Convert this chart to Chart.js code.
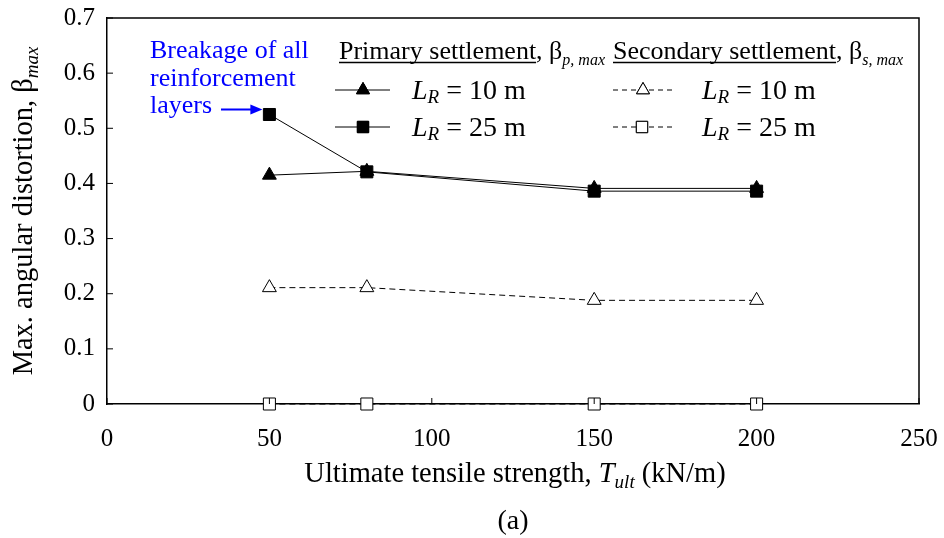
<!DOCTYPE html>
<html>
<head>
<meta charset="utf-8">
<script src="https://cdn.jsdelivr.net/npm/chart.js@4.4.1/dist/chart.umd.min.js"></script>
<style>
  html, body { margin: 0; padding: 0; background: #fff; }
  #wrap { width: 944px; height: 538px; position: relative; }
</style>
</head>
<body>
<div id="wrap"><canvas id="chart"></canvas></div>
<script>
'use strict'

// values
const tult = [50, 80, 150, 200]
const primaryL10 = [0.415, 0.422, 0.391, 0.391]
const primaryL25 = [0.525, 0.421, 0.386, 0.386]
const secondaryL10 = [0.211, 0.211, 0.188, 0.188]
const secondaryL25 = [0, 0, 0, 0]
const xTicks = [0, 50, 100, 150, 200, 250]
const yTicks = [0, 0.1, 0.2, 0.3, 0.4, 0.5, 0.6, 0.7]

const SERIF = '"Liberation Serif", "Times New Roman", serif'

function pts(ys) {
  return tult.map((x, i) => ({ x: x, y: ys[i] }))
}

// draw a list of text runs, each with its own font / vertical shift / underline
function drawRuns(ctx, x, y, runs, align) {
  let total = 0
  runs.forEach(r => { ctx.font = r.font; total += ctx.measureText(r.t).width })
  let cx = align === 'center' ? x - total / 2 : x
  ctx.textAlign = 'left'
  ctx.textBaseline = 'alphabetic'
  runs.forEach(r => {
    ctx.font = r.font
    const w = ctx.measureText(r.t).width
    ctx.fillText(r.t, cx, y + (r.dy || 0))
    if (r.underline) {
      ctx.beginPath()
      ctx.lineWidth = 1.5
      ctx.moveTo(cx, y + 3.5)
      ctx.lineTo(cx + w, y + 3.5)
      ctx.stroke()
    }
    cx += w
  })
}

function marker(ctx, style, x, y, r, filled) {
  ctx.save()
  ctx.setLineDash([])
  ctx.lineWidth = 1
  ctx.strokeStyle = '#000'
  ctx.fillStyle = filled ? '#000' : '#fff'
  Chart.helpers.drawPoint(ctx, { pointStyle: style, radius: r, borderWidth: 1 }, x, y)
  ctx.fill()
  ctx.stroke()
  ctx.restore()
}

const decorations = {
  id: 'decorations',
  afterDraw(chart) {
    const ctx = chart.ctx
    const a = chart.chartArea
    const xs = chart.scales.x
    const ys = chart.scales.y
    ctx.save()

    // frame (top + right)
    ctx.strokeStyle = '#000'
    ctx.lineWidth = 1.5
    ctx.beginPath()
    ctx.moveTo(a.left, a.top)
    ctx.lineTo(a.right, a.top)
    ctx.lineTo(a.right, a.bottom)
    ctx.stroke()

    // inner tick marks
    ctx.lineWidth = 1
    ys.ticks.forEach(t => {
      const py = ys.getPixelForValue(t.value)
      ctx.beginPath()
      ctx.moveTo(a.left, py)
      ctx.lineTo(a.left + 6, py)
      ctx.stroke()
    })
    xs.ticks.forEach(t => {
      const px = xs.getPixelForValue(t.value)
      ctx.beginPath()
      ctx.moveTo(px, a.bottom)
      ctx.lineTo(px, a.bottom - 6)
      ctx.stroke()
    })

    ctx.fillStyle = '#000'
    // axis titles
    drawRuns(ctx, (a.left + a.right) / 2 + 2, 482, [
      { t: 'Ultimate tensile strength, ', font: '28.5px ' + SERIF },
      { t: 'T', font: 'italic 28.5px ' + SERIF },
      { t: 'ult', font: 'italic 19px ' + SERIF, dy: 6 },
      { t: ' (kN/m)', font: '28.5px ' + SERIF }
    ], 'center')

    ctx.save()
    ctx.translate(32, (a.top + a.bottom) / 2)
    ctx.rotate(-Math.PI / 2)
    drawRuns(ctx, 0, 0, [
      { t: 'Max. angular distortion, β', font: '28.5px ' + SERIF },
      { t: 'max', font: 'italic 19px ' + SERIF, dy: 6 }
    ], 'center')
    ctx.restore()

    // caption
    ctx.font = '28px ' + SERIF
    ctx.textAlign = 'center'
    ctx.fillText('(a)', (a.left + a.right) / 2, 529)

    // legend headings
    drawRuns(ctx, 339, 59, [
      { t: 'Primary settlement', font: '26px ' + SERIF, underline: true },
      { t: ', β', font: '26px ' + SERIF },
      { t: 'p, max', font: 'italic 16px ' + SERIF, dy: 6 }
    ])
    drawRuns(ctx, 613, 59, [
      { t: 'Secondary settlement', font: '26px ' + SERIF, underline: true },
      { t: ', β', font: '26px ' + SERIF },
      { t: 's, max', font: 'italic 16px ' + SERIF, dy: 6 }
    ])

    const rows = [
      { x0: 335, x1: 390, mx: 363, y: 90, dash: [], style: 'triangle', fill: true, tx: 412, txt: '10 m' },
      { x0: 335, x1: 390, mx: 363, y: 127, dash: [], style: 'rect', fill: true, tx: 412, txt: '25 m' },
      { x0: 613, x1: 675, mx: 643, y: 90, dash: [5, 4], style: 'triangle', fill: false, tx: 702, txt: '10 m' },
      { x0: 613, x1: 675, mx: 642, y: 127, dash: [5, 4], style: 'rect', fill: false, tx: 702, txt: '25 m' }
    ]
    rows.forEach(r => {
      ctx.save()
      ctx.strokeStyle = '#000'
      ctx.lineWidth = 1
      ctx.setLineDash(r.dash)
      ctx.beginPath()
      ctx.moveTo(r.x0, r.y)
      ctx.lineTo(r.x1, r.y)
      ctx.stroke()
      ctx.restore()
      marker(ctx, r.style, r.mx, r.y, r.style === 'rect' ? 8 : 7.5, r.fill)
      ctx.fillStyle = '#000'
      drawRuns(ctx, r.tx, r.y + 9, [
        { t: 'L', font: 'italic 28px ' + SERIF },
        { t: 'R', font: 'italic 19px ' + SERIF, dy: 4 },
        { t: ' = ' + r.txt, font: '28px ' + SERIF }
      ])
    })

    // annotation for breakage point
    const bx = xs.getPixelForValue(tult[0])
    const by = ys.getPixelForValue(primaryL25[0])
    ctx.fillStyle = '#0000ff'
    ctx.strokeStyle = '#0000ff'
    ctx.font = '26px ' + SERIF
    ctx.textAlign = 'left'
    ctx.fillText('Breakage of all', 150, 58)
    ctx.fillText('reinforcement', 150, 86)
    ctx.fillText('layers', 150, 113)
    const ax0 = 221, ay = by - 5, ax1 = bx - 7
    ctx.lineWidth = 2
    ctx.beginPath()
    ctx.moveTo(ax0, ay)
    ctx.lineTo(ax1 - 6, ay)
    ctx.stroke()
    ctx.beginPath()
    ctx.moveTo(ax1, ay)
    ctx.lineTo(ax1 - 12, ay - 5)
    ctx.lineTo(ax1 - 12, ay + 5)
    ctx.closePath()
    ctx.fill()

    ctx.restore()
  }
}

const common = {
  borderColor: '#000',
  pointBorderColor: '#000',
  borderWidth: 1,
  pointBorderWidth: 1,
  showLine: true,
  clip: false,
  tension: 0
}

new Chart(document.getElementById('chart'), {
  type: 'scatter',
  data: {
    datasets: [
      Object.assign({}, common, {
        label: 'Primary, LR = 25 m',
        data: pts(primaryL25),
        pointStyle: 'rect',
        pointRadius: 8.5,
        pointBackgroundColor: '#000'
      }),
      Object.assign({}, common, {
        label: 'Primary, LR = 10 m',
        data: pts(primaryL10),
        pointStyle: 'triangle',
        pointRadius: 8,
        pointBackgroundColor: '#000'
      }),
      Object.assign({}, common, {
        label: 'Secondary, LR = 25 m',
        data: pts(secondaryL25),
        pointStyle: 'rect',
        pointRadius: 8.5,
        borderDash: [6, 4],
        pointBackgroundColor: '#fff'
      }),
      Object.assign({}, common, {
        label: 'Secondary, LR = 10 m',
        data: pts(secondaryL10),
        pointStyle: 'triangle',
        pointRadius: 8,
        borderDash: [6, 4],
        pointBackgroundColor: '#fff'
      })
    ]
  },
  options: {
    responsive: true,
    maintainAspectRatio: false,
    animation: false,
    layout: { padding: { left: 0, top: 18, right: 25, bottom: 0 } },
    plugins: {
      legend: { display: false },
      tooltip: { enabled: false }
    },
    scales: {
      x: {
        type: 'linear',
        min: 0,
        max: 250,
        afterBuildTicks: s => { s.ticks = xTicks.map(v => ({ value: v })) },
        afterFit: s => { s.height = 134; s.paddingLeft = 0; s.paddingRight = 0 },
        grid: { display: false, drawTicks: false },
        border: { display: true, color: '#000', width: 1.5 },
        ticks: { color: '#000', padding: 20, maxRotation: 0, font: { family: SERIF, size: 25 } }
      },
      y: {
        type: 'linear',
        min: 0,
        max: 0.7,
        afterBuildTicks: s => { s.ticks = yTicks.map(v => ({ value: v })) },
        afterFit: s => { s.width = 107; s.paddingTop = 0; s.paddingBottom = 0 },
        grid: { display: false, drawTicks: false },
        border: { display: true, color: '#000', width: 1.5 },
        ticks: { color: '#000', padding: 12, font: { family: SERIF, size: 25 } }
      }
    }
  },
  plugins: [decorations]
})
</script>
</body>
</html>
